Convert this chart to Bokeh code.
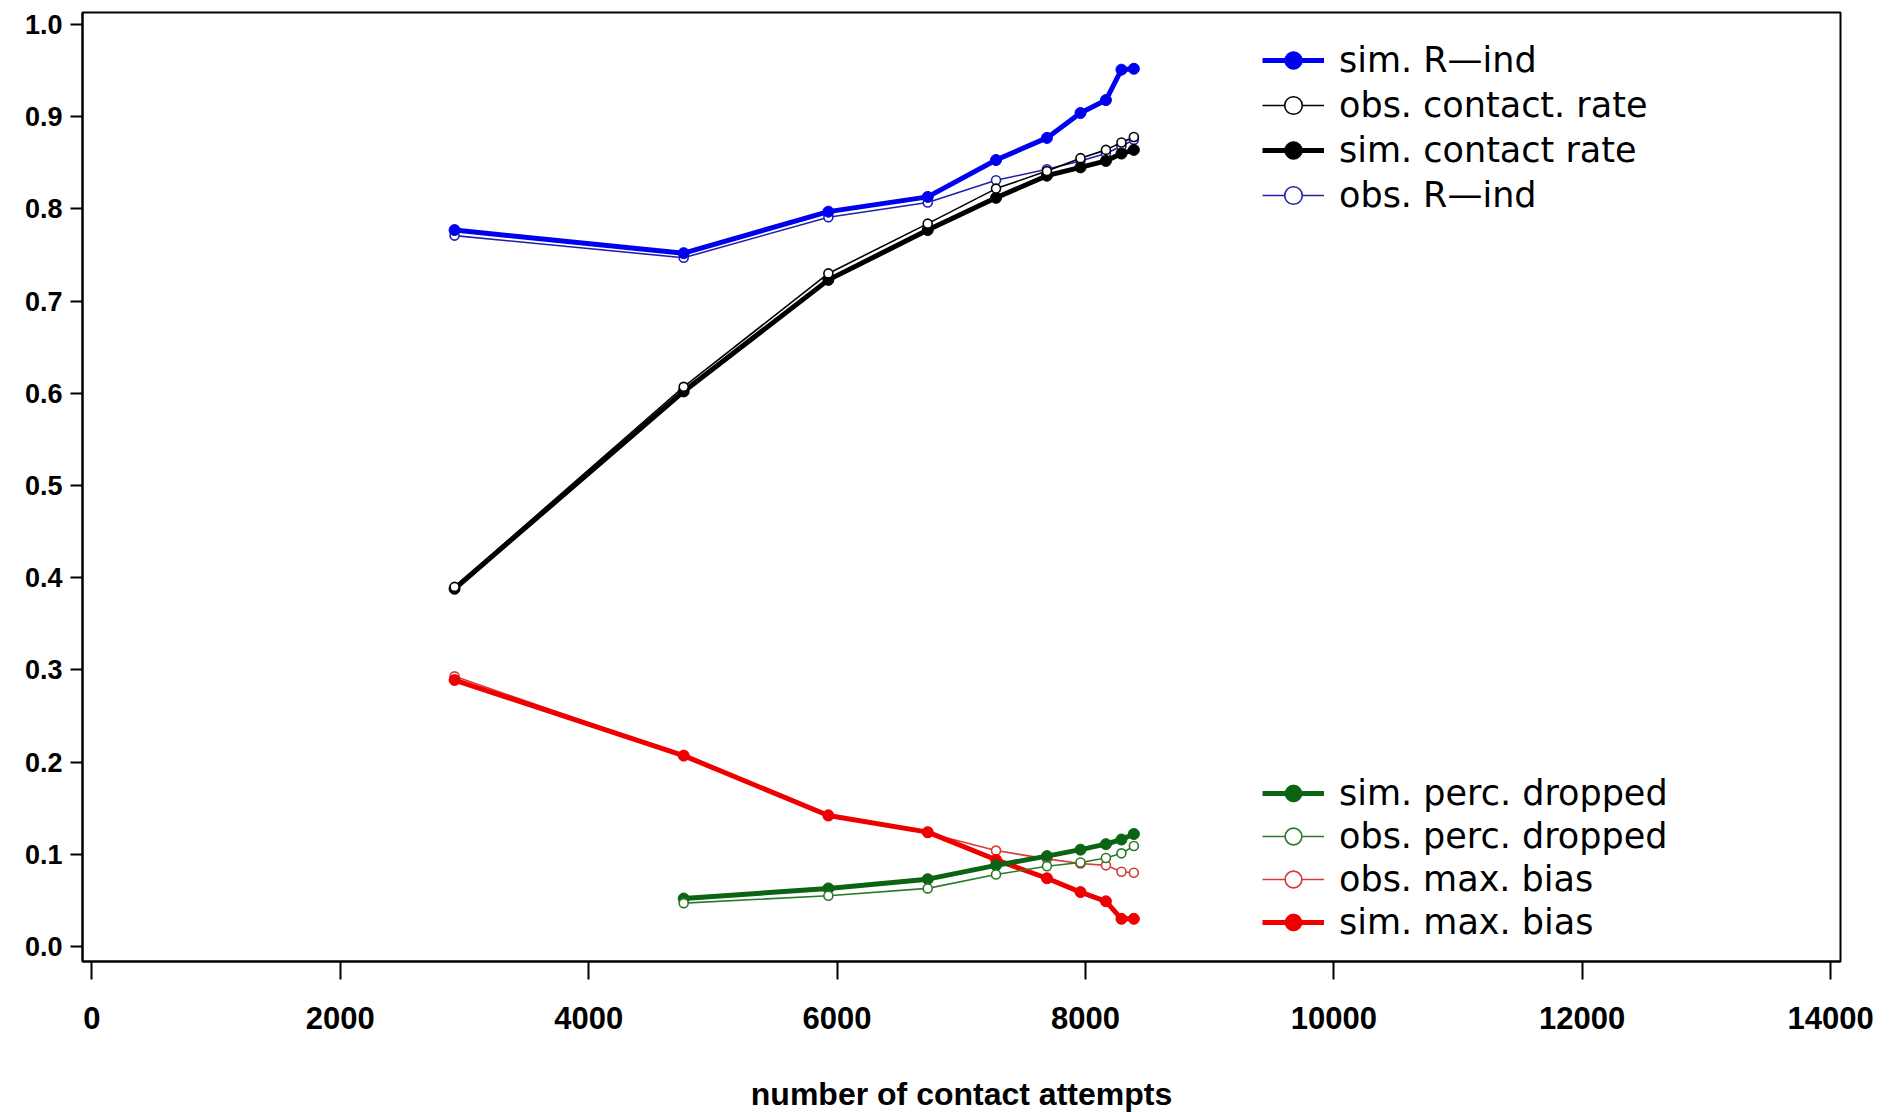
from bokeh.plotting import figure
from bokeh.models import Legend, LegendItem, FixedTicker, PrintfTickFormatter, Range1d
from bokeh.embed import file_html
from bokeh.resources import INLINE

# ---- data ----
attempts = [2920, 4765, 5930, 6730, 7280, 7690, 7960, 8165, 8290, 8390]
attempts_dropped = [4765, 5930, 6730, 7280, 7690, 7960, 8165, 8290, 8390]

sim_r_ind = [0.777, 0.752, 0.797, 0.813, 0.853, 0.877, 0.904, 0.918, 0.951, 0.952]
obs_r_ind = [0.771, 0.747, 0.791, 0.807, 0.831, 0.843, 0.852, 0.860, 0.868, 0.875]
obs_contact = [0.390, 0.607, 0.730, 0.784, 0.822, 0.841, 0.855, 0.864, 0.872, 0.878]
sim_contact = [0.388, 0.602, 0.723, 0.777, 0.812, 0.836, 0.845, 0.852, 0.860, 0.864]
sim_max_bias = [0.289, 0.207, 0.142, 0.124, 0.094, 0.074, 0.059, 0.049, 0.030, 0.030]
obs_max_bias = [0.293, 0.207, 0.143, 0.123, 0.104, 0.095, 0.090, 0.088, 0.081, 0.080]
sim_dropped = [0.052, 0.063, 0.073, 0.088, 0.098, 0.105, 0.111, 0.116, 0.122]
obs_dropped = [0.047, 0.055, 0.063, 0.078, 0.087, 0.091, 0.096, 0.101, 0.109]

x_ticks = [0, 2000, 4000, 6000, 8000, 10000, 12000, 14000]
y_ticks = [0.0, 0.1, 0.2, 0.3, 0.4, 0.5, 0.6, 0.7, 0.8, 0.9, 1.0]

p = figure(frame_width=1758, frame_height=949,
           min_border_left=82, min_border_right=50, min_border_top=12, min_border_bottom=151,
           x_range=Range1d(-76, 14080), y_range=Range1d(-0.0163, 1.013),
           output_backend="svg", toolbar_location=None)

p.xgrid.visible = False
p.ygrid.visible = False
p.outline_line_color = "black"
p.outline_line_width = 2
p.background_fill_color = "white"
p.border_fill_color = "white"

# axes
p.xaxis.ticker = FixedTicker(ticks=x_ticks)
p.xaxis.formatter = PrintfTickFormatter(format="%d")
p.xaxis.major_tick_out = 18
p.xaxis.major_tick_in = 0
p.xaxis.minor_tick_out = 0
p.xaxis.minor_tick_in = 0
p.xaxis.axis_line_width = 2
p.xaxis.major_tick_line_width = 2
p.xaxis.major_label_text_font = "Liberation Sans"
p.xaxis.major_label_text_font_style = "bold"
p.xaxis.major_label_text_font_size = "31px"
p.xaxis.major_label_text_color = "black"
p.xaxis.major_label_standoff = 27
p.xaxis.axis_label = "number of contact attempts"
p.xaxis.axis_label_text_font = "Liberation Sans"
p.xaxis.axis_label_text_font_style = "bold"
p.xaxis.axis_label_text_font_size = "32px"
p.xaxis.axis_label_text_color = "black"
p.xaxis.axis_label_standoff = 44

p.yaxis.ticker = FixedTicker(ticks=y_ticks)
p.yaxis.formatter = PrintfTickFormatter(format="%.1f")
p.yaxis.major_tick_out = 12
p.yaxis.major_tick_in = 0
p.yaxis.minor_tick_out = 0
p.yaxis.minor_tick_in = 0
p.yaxis.axis_line_width = 2
p.yaxis.major_tick_line_width = 2
p.yaxis.major_label_text_font = "Liberation Sans"
p.yaxis.major_label_text_font_style = "bold"
p.yaxis.major_label_text_font_size = "27px"
p.yaxis.major_label_text_color = "black"
p.yaxis.major_label_standoff = 8

BLUE = "#0000f0"
OBS_BLUE = "#2020a8"
BLACK = "#000000"
GREEN = "#0a6414"
OBS_GREEN = "#2b7a2b"
RED = "#ee0000"
OBS_RED = "#d63a3a"


def sim_series(x, y, color):
    ln = p.line(x, y, line_color=color, line_width=5)
    sc = p.scatter(x, y, marker="circle", size=11, fill_color=color, line_color=color)
    return [ln, sc]


def obs_series(x, y, color):
    ln = p.line(x, y, line_color=color, line_width=1.6)
    sc = p.scatter(x, y, marker="circle", size=9, fill_color="white", line_color=color, line_width=1.6)
    return [ln, sc]


r_obs_r_ind = obs_series(attempts, obs_r_ind, OBS_BLUE)
r_sim_r_ind = sim_series(attempts, sim_r_ind, BLUE)
r_sim_contact = sim_series(attempts, sim_contact, BLACK)
r_obs_contact = obs_series(attempts, obs_contact, BLACK)
r_obs_bias = obs_series(attempts, obs_max_bias, OBS_RED)
r_sim_bias = sim_series(attempts, sim_max_bias, RED)
r_sim_drop = sim_series(attempts_dropped, sim_dropped, GREEN)
r_obs_drop = obs_series(attempts_dropped, obs_dropped, OBS_GREEN)


def make_legend(items, loc, h):
    lg = Legend(items=items, location=loc, orientation="vertical",
                label_text_font="DejaVu Sans", label_text_font_size="35px",
                label_text_color="black",
                glyph_width=62, glyph_height=h, label_height=h, spacing=1,
                label_standoff=15, padding=0, margin=0,
                border_line_color=None, background_fill_alpha=0)
    return lg


top_legend = make_legend([
    LegendItem(label="sim. R\u2014ind", renderers=r_sim_r_ind),
    LegendItem(label="obs. contact. rate", renderers=r_obs_contact),
    LegendItem(label="sim. contact rate", renderers=r_sim_contact),
    LegendItem(label="obs. R\u2014ind", renderers=r_obs_r_ind),
], (1180, 744), 44)

bottom_legend = make_legend([
    LegendItem(label="sim. perc. dropped", renderers=r_sim_drop),
    LegendItem(label="obs. perc. dropped", renderers=r_obs_drop),
    LegendItem(label="obs. max. bias", renderers=r_obs_bias),
    LegendItem(label="sim. max. bias", renderers=r_sim_bias),
], (1180, 18), 42)

p.add_layout(top_legend, "center")
p.add_layout(bottom_legend, "center")

open("out.html", "w").write(file_html(p, INLINE))
